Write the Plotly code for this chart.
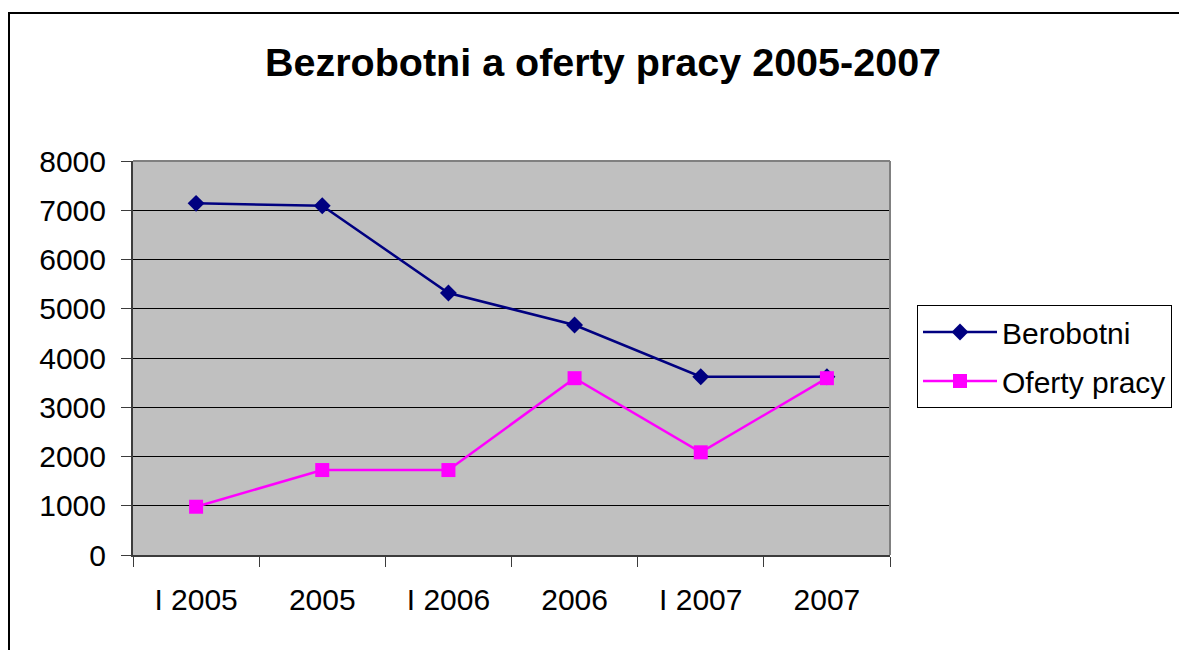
import plotly.graph_objects as go

categories = ["I 2005", "2005", "I 2006", "2006", "I 2007", "2007"]
bezrobotni = [7140, 7090, 5320, 4670, 3620, 3620]
oferty = [980, 1725, 1725, 3590, 2085, 3590]
y_ticks = [0, 1000, 2000, 3000, 4000, 5000, 6000, 7000, 8000]

FONT = "Liberation Sans, Arial, sans-serif"

fig = go.Figure()
fig.add_trace(go.Scatter(
    x=categories, y=bezrobotni, name="Berobotni", mode="lines+markers",
    line=dict(color="#000080", width=2.5),
    marker=dict(symbol="diamond", size=13, color="#000080"),
    legendgroup="a",
))
fig.add_trace(go.Scatter(
    x=categories, y=oferty, name="Oferty pracy", mode="lines+markers",
    line=dict(color="#FF00FF", width=2.5),
    marker=dict(symbol="square", size=14, color="#FF00FF"),
    legendgroup="b",
))

# page body has an 8px margin; target pixel coordinates are corrected by OFF
OFF = 8
W, H = 1187, 650
L, T = 133 - OFF, 161 - OFF
R = W - (890 - OFF)
B = H - (555 - OFF)
pw = W - L - R
ph = H - T - B

def px_x(p):
    return (p - OFF - L) / pw

def px_y(p):
    return (H - B - (p - OFF)) / ph

fig.update_layout(
    width=W, height=H,
    margin=dict(l=L, r=R, t=T, b=B, autoexpand=False),
    paper_bgcolor="white",
    plot_bgcolor="#C0C0C0",
    font=dict(family=FONT, color="black", size=30),
    title=dict(
        text="<b>Bezrobotni a oferty pracy 2005-2007</b>",
        x=px_x(603), xref="paper", xanchor="center",
        y=1 - (62 - OFF) / H, yref="container", yanchor="middle",
        font=dict(family=FONT, size=39.5, color="black"),
    ),
    showlegend=True,
    legend=dict(
        x=px_x(917), xanchor="left",
        y=px_y(305), yanchor="top",
        bordercolor="black", borderwidth=1, bgcolor="white",
        font=dict(family=FONT, size=30, color="black"),
        tracegroupgap=7,
        itemwidth=74,
    ),
    xaxis=dict(
        type="category",
        categoryorder="array", categoryarray=categories,
        tickson="boundaries",
        ticks="outside", ticklen=10, tickcolor="#3c3c3c", tickwidth=1,
        showline=True, linecolor="#3c3c3c", linewidth=2,
        showgrid=False, zeroline=False,
        tickfont=dict(family=FONT, size=30, color="black"),
        ticklabelstandoff=17,
        range=[-0.5, 5.5],
    ),
    yaxis=dict(
        range=[0, 8000],
        tickvals=y_ticks,
        ticks="outside", ticklen=10, tickcolor="#3c3c3c", tickwidth=1,
        showline=True, linecolor="#3c3c3c", linewidth=2,
        showgrid=True, gridcolor="black", gridwidth=1,
        zeroline=False,
        tickfont=dict(family=FONT, size=30, color="black"),
        ticklabelstandoff=9,
    ),
)

# gray border on top / right of plot area
fig.add_shape(type="line", xref="paper", yref="paper", x0=0, x1=1, y0=1, y1=1,
              line=dict(color="#808080", width=2))
fig.add_shape(type="line", xref="paper", yref="paper", x0=1, x1=1, y0=0, y1=1,
              line=dict(color="#808080", width=2))

# outer chart border (extends beyond the window on right and bottom)
fig.add_shape(type="rect", xref="paper", yref="paper",
              x0=px_x(9), x1=px_x(W + 60),
              y0=px_y(H + 60), y1=px_y(13),
              line=dict(color="black", width=2), layer="below")

fig.write_html("out.html")
